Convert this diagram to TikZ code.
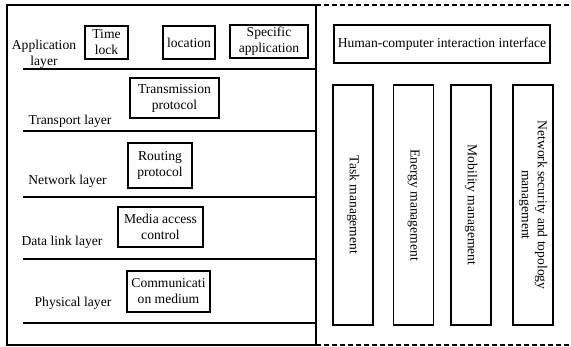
\documentclass[tikz,border=0pt]{standalone}
\usepackage{fontspec}
\setmainfont{Liberation Serif}
\begin{document}
\begin{tikzpicture}[x=1pt,y=-1pt,
  every node/.style={font=\fontsize{13.6}{16}\selectfont},
  box/.style={draw,line width=1.1pt,inner sep=0pt,align=center},
  vbox/.style={draw,line width=1.1pt,inner sep=0pt,minimum width=40pt,minimum height=240pt},
  layerlabel/.style={inner sep=0pt,align=center},
  sep/.style={line width=1.1pt},
  frame/.style={line width=1.1pt},
  dashframe/.style={line width=1.1pt,dash pattern=on 5pt off 3pt}]
\useasboundingbox (0,0) rectangle (571,347);

% protocol stack frame and layer separators
\draw[frame] (7,5) rectangle (316,345);
\foreach \y in {69,131,197,259,323}
  \draw[sep] (23,\y) -- (316,\y);

% management plane frame (open on the right)
\draw[dashframe] (316,5) -- (571,5);
\draw[dashframe] (316,345) -- (571,345);

% layer names
\node[layerlabel] (app)   at (44,54.5) {Application\\layer};
\node[layerlabel] (trans) at (70,121) {Transport layer};
\node[layerlabel] (net)   at (67.5,181) {Network layer};
\node[layerlabel] (link)  at (62,242) {Data link layer};
\node[layerlabel] (phy)   at (73,303) {Physical layer};

% functions of each layer
\node[box,minimum width=43pt,minimum height=33pt] (tlock) at (106.5,42.5) {Time\\lock};
\node[box,minimum width=52pt,minimum height=33pt] (loc) at (189,42.5) {location};
\node[box,minimum width=78pt,minimum height=33pt] (spec) at (269,41.5) {Specific\\application};
\node[box,minimum width=89pt,minimum height=40pt] (tp) at (174.5,98) {Transmission\\protocol};
\node[box,minimum width=64pt,minimum height=45pt] (rp) at (160,165.5) {Routing\\protocol};
\node[box,minimum width=85pt,minimum height=40pt] (mac) at (160.5,227) {Media access\\control};
\node[box,minimum width=83pt,minimum height=41pt] (med) at (168.5,291.5) {Communicati\\on medium};

% management plane
\node[box,minimum width=216pt,minimum height=38pt] (hci) at (442,44) {Human-computer interaction interface};
\node[vbox] (task) at (353,205) {};
\node[rotate=-90] at (task.center) {Task management};
\node[vbox] (energy) at (413.5,205) {};
\node[rotate=-90] at (energy.center) {Energy management};
\node[vbox] (mob) at (471,205) {};
\node[rotate=-90] at (mob.center) {Mobility management};
\node[vbox] (sec) at (533,205) {};
\node[rotate=-90,align=center,inner sep=0pt] at (sec.center) {Network security and topology\\management};
\end{tikzpicture}
\end{document}
